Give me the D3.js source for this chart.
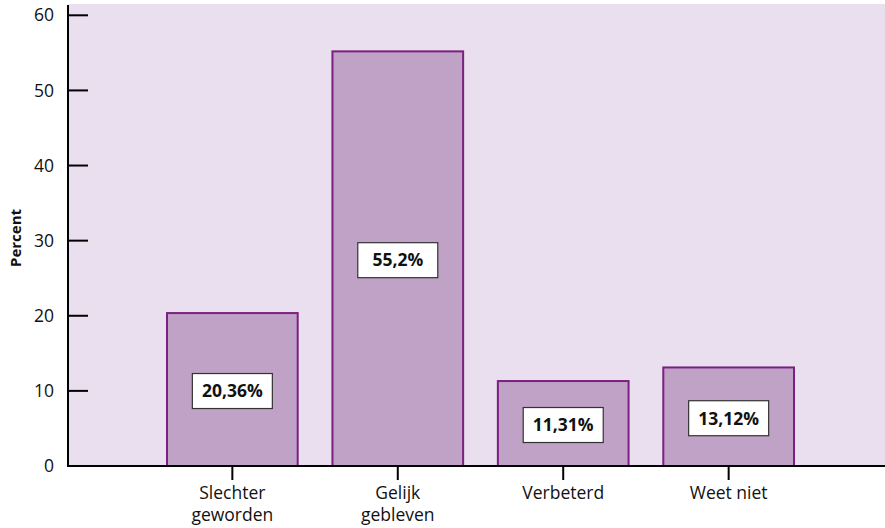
<!DOCTYPE html>
<html><head><meta charset="utf-8">
<script src="https://cdn.jsdelivr.net/npm/d3@7"></script>
<style>body{margin:0;background:#fff}svg{display:block}</style>
</head><body>
<script>
const categories = [["Slechter","geworden"],["Gelijk","gebleven"],["Verbeterd"],["Weet niet"]];
const values = [20.36, 55.2, 11.31, 13.12];
const valueLabels = ["20,36%","55,2%","11,31%","13,12%"];
const yTicks = [0,10,20,30,40,50,60];
const yTitle = "Percent";

const W=885,H=528;
const svg=d3.select("body").append("svg").attr("width",W).attr("height",H);
const font="'Open Sans', 'Noto Sans', sans-serif";
const plotL=68, plotR=885, plotT=4, plotB=466;

const y=d3.scaleLinear().domain([0,60]).range([466,15.3]);
const keys=categories.map(c=>c.join(" "));
const x=d3.scaleBand().domain(keys).range([167,794]).paddingInner(0.21).paddingOuter(0);

svg.append("rect").attr("x",plotL).attr("y",plotT).attr("width",plotR-plotL).attr("height",plotB-plotT).attr("fill","#eadfee");

// bars
svg.selectAll("rect.bar").data(values).enter().append("rect").attr("class","bar")
  .attr("x",(d,i)=>x(keys[i])).attr("y",d=>y(d))
  .attr("width",x.bandwidth()).attr("height",d=>y(0)-y(d))
  .attr("fill","#c0a2c6").attr("stroke","#7b1f82").attr("stroke-width",2);

// axes
const yAxis=d3.axisLeft(y).tickValues(yTicks).tickSize(0).tickPadding(14);
const gy=svg.append("g").attr("transform",`translate(${plotL},0)`).call(yAxis);
gy.select(".domain").remove();
gy.selectAll("text").attr("font-family",font).attr("font-size",17.5).attr("fill","#111");
svg.selectAll("line.yt").data(yTicks).enter().append("line")
  .attr("x1",plotL).attr("x2",plotL+20).attr("y1",d=>y(d)).attr("y2",d=>y(d))
  .attr("stroke","#000").attr("stroke-width",2);
svg.append("line").attr("x1",plotL).attr("x2",plotL).attr("y1",plotT+1).attr("y2",467).attr("stroke","#000").attr("stroke-width",2);
svg.append("line").attr("x1",plotL-1).attr("x2",plotR).attr("y1",466).attr("y2",466).attr("stroke","#000").attr("stroke-width",2);

const xAxis=d3.axisBottom(x).tickSize(14).tickFormat("");
const gx=svg.append("g").attr("transform","translate(0,466)").call(xAxis);
gx.select(".domain").remove();
gx.selectAll("line").attr("stroke","#000").attr("stroke-width",2);

categories.forEach((c,i)=>{
  const t=svg.append("text").attr("x",x(keys[i])+x.bandwidth()/2).attr("y",499)
    .attr("text-anchor","middle").attr("font-family",font).attr("font-size",17.5).attr("fill","#111");
  c.forEach((line,j)=>t.append("tspan").attr("x",x(keys[i])+x.bandwidth()/2).attr("dy",j?22:0).text(line));
});

// y title
svg.append("text").attr("transform",`translate(20.5,238) rotate(-90)`).attr("text-anchor","middle")
  .attr("font-family",font).attr("font-weight","bold").attr("font-size",15).attr("fill","#111").text(yTitle);

// value labels
values.forEach((v,i)=>{
  const cx=x(keys[i])+x.bandwidth()/2, cy=y(v/2)+1.5;
  svg.append("rect").attr("x",cx-40).attr("y",cy-17.5).attr("width",80).attr("height",35)
    .attr("fill","#fff").attr("stroke","#333").attr("stroke-width",1.2);
  svg.append("text").attr("x",cx).attr("y",cy).attr("dy","0.36em").attr("text-anchor","middle")
    .attr("font-family",font).attr("font-weight","bold").attr("font-size",17.5).attr("fill","#111").text(valueLabels[i]);
});
</script>
</body></html>
